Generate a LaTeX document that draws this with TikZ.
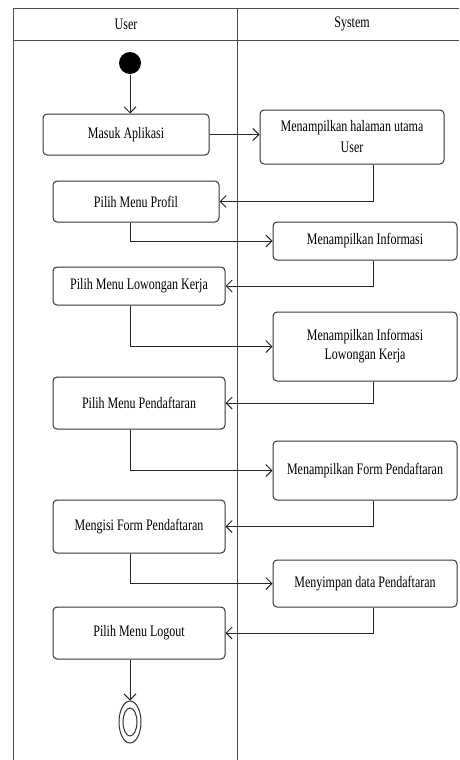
\documentclass[tikz,border=0pt]{standalone}
\usepackage{fontspec}
\setmainfont[FakeStretch=0.75]{Liberation Serif}
\usetikzlibrary{arrows.meta, positioning, shapes.geometric}

\tikzset{
    act/.style={draw=black!80, rounded corners=4pt, align=center, inner sep=2pt,
        font=\fontsize{16}{19}\selectfont},
    userbox/.style={act, minimum width=172pt},
    sysbox/.style={act, minimum width=184pt},
    flow/.style={draw=black!85, -{Straight Barb[length=6pt, width=12pt]}},
    lane/.style={draw=black!70},
}

\begin{document}
\begin{tikzpicture}[x=1pt, y=-1pt, line width=1pt]
    \useasboundingbox (0,0) rectangle (459,760);

    % Lanes
    \draw[lane] (459,9) -- (13,9) -- (13,760);
    \draw[lane] (13,41) -- (459,41);
    \draw[lane] (237,9) -- (237,760);
    \node[font=\fontsize{16}{19}\selectfont] (laneuser) at (126,24) {User};
    \node[font=\fontsize{16}{19}\selectfont] (lanesys) at (352,24) {System};

    % Start and end
    \node[circle, fill=black, minimum size=22pt, inner sep=0pt] (start) at (130,63) {};
    \node[ellipse, draw=black!80, minimum width=22pt, minimum height=42pt, inner sep=0pt] (final) at (130,722) {};
    \node[ellipse, draw=black!80, minimum width=14pt, minimum height=28pt, inner sep=0pt] (finalin) at (130,722) {};

    % User side
    \node[act, minimum width=166pt, minimum height=41pt] (masuk) at (126,134.5) {Masuk Aplikasi};
    \node[act, minimum width=166pt, minimum height=41pt] (profil) at (136,201.5) {Pilih Menu Profil};
    \node[userbox, minimum height=38pt] (lowongan) at (139,286) {Pilih Menu Lowongan Kerja};
    \node[userbox, minimum height=52pt] (daftar) at (139,403) {Pilih Menu Pendaftaran};
    \node[userbox, minimum height=53pt] (mengisi) at (139,526.5) {Mengisi Form Pendaftaran};
    \node[userbox, minimum height=52pt] (logout) at (139,633) {Pilih Menu Logout};

    % System side
    \node[sysbox, minimum height=54pt] (halaman) at (352,137) {Menampilkan halaman utama\\[2pt]User};
    \node[sysbox, minimum height=38pt] (info) at (365,241) {Menampilkan Informasi};
    \node[sysbox, minimum height=69pt] (infolk) at (365,346.5) {Menampilkan Informasi\\Lowongan Kerja};
    \node[sysbox, minimum height=59pt] (form) at (365,470.5) {Menampilkan Form Pendaftaran};
    \node[sysbox, minimum height=47pt] (simpan) at (365,583.5) {Menyimpan data Pendaftaran};

    % Flow
    \coordinate (uline) at (130,0);
    \coordinate (sline) at (373,0);
    \draw[flow] (start) -- (start |- masuk.north);
    \draw[flow] (masuk) -- (masuk -| halaman.west);
    \draw[flow] (halaman.south -| sline) |- (profil.east);
    \draw[flow] (profil.south -| uline) |- (info.west);
    \draw[flow] (info.south -| sline) |- (lowongan.east);
    \draw[flow] (lowongan.south -| uline) |- (infolk.west);
    \draw[flow] (infolk.south -| sline) |- (daftar.east);
    \draw[flow] (daftar.south -| uline) |- (form.west);
    \draw[flow] (form.south -| sline) |- (mengisi.east);
    \draw[flow] (mengisi.south -| uline) |- (simpan.west);
    \draw[flow] (simpan.south -| sline) |- (logout.east);
    \draw[flow] (logout.south -| uline) -- (final.north);
\end{tikzpicture}
\end{document}
